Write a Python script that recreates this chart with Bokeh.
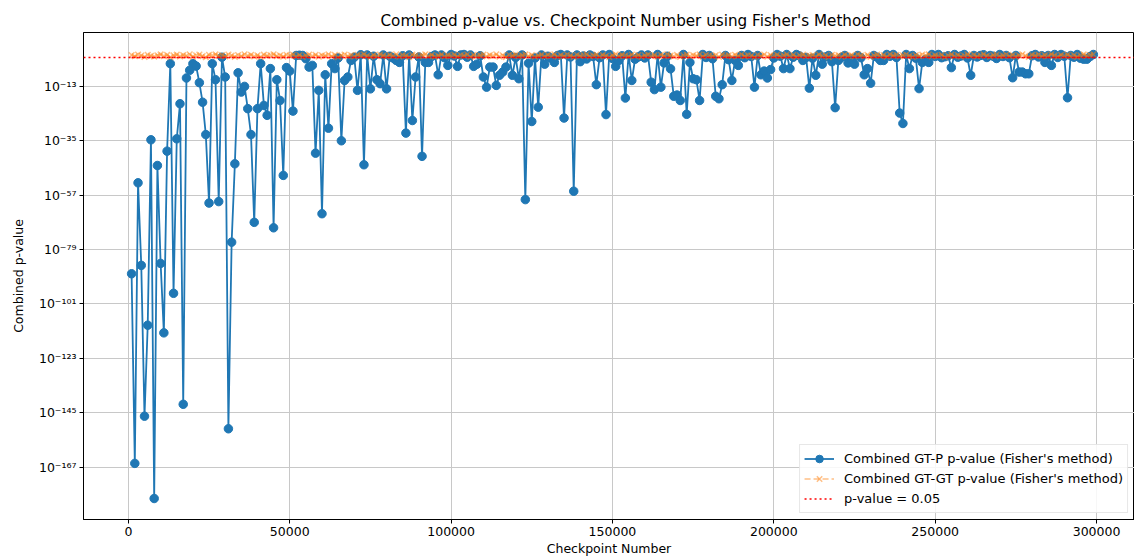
from bokeh.plotting import figure
from bokeh.models import (Range1d, FixedTicker, CustomJSTickFormatter, BasicTickFormatter,
                          Span, Legend, LegendItem, ColumnDataSource)
from bokeh.embed import file_html
from bokeh.resources import INLINE

# log10 of combined GT-P p-value, one per checkpoint (1000, 2000, ...)
gtp_log10 = [
    -88.8, -165.5, -52, -85.4, -146.4, -109.6, -34.6, -179.7, -45, -84.6,
    -112.7, -39.2, -3.8, -96.7, -34.2, -20, -141.6, -9.6, -6.5, -3.8,
    -4.8, -11.5, -19.4, -32.5, -60.2, -3.8, -10.3, -59.6, -1.2, -9.2,
    -151.5, -76, -44.3, -7.5, -15.3, -13, -22, -32.5, -68, -22,
    -3.8, -20.7, -24.7, -5.8, -70.2, -10.3, -18.7, -49, -5.4, -6.8,
    -23, -0.5, -0.4, -0.5, -1.8, -5.2, -4.5, -40, -14.6, -64.5,
    -8.3, -29.9, -3.8, -5.8, -1.5, -35, -10.6, -9.2, -2.5, -1.2,
    -14.6, -0.2, -44.7, -0.3, -14, -0.8, -10.3, -11.9, -0.3, -14,
    -0.8, -1.5, -2.5, -3.3, -0.6, -31.9, -0.3, -26.8, -9.2, -1.1,
    -41.3, -3.3, -3.3, -0.9, -0.3, -8.3, -0.3, -1.4, -4.5, -0.1,
    -0.7, -4.9, -0.3, -0.1, -1.2, -0.3, -4.9, -4, -0.6, -9.2,
    -13.3, -5.2, -5.2, -12.6, -8.5, -7.2, -5.2, -0.3, -8.5, -1.3,
    -9.9, -0.3, -58.8, -3.6, -27.2, -1.5, -21.4, -0.3, -4, -0.8,
    -1.6, -3.3, -0.5, -0.1, -25.8, -0.3, -1.1, -55.4, -0.3, -3,
    -0.7, -1.9, -0.3, -0.9, -12.3, -1.4, -0.3, -24.4, -0.1, -1.7,
    -4.9, -2.5, -0.6, -17.7, -0.1, -10.6, -2, -1.1, -0.3, -1.5,
    -0.3, -11.3, -14.3, -0.1, -13.3, -3.5, -0.8, -5.9, -17, -16.5,
    -18.7, -0.1, -24.3, -3.3, -9.9, -10.3, -18.7, -0.1, -1.3, -0.5,
    -1.8, -17, -18, -12.3, -0.5, -2.2, -10.6, -2.5, -4.5, -0.5,
    -1.4, -0.1, -0.9, -13.3, -0.5, -8.3, -6.8, -9.6, -6.2, -1.5,
    -0.1, -0.8, -5.8, -0.1, -5.8, -1.2, -0.1, -0.7, -2.5, -1.3,
    -13.7, -1.6, -8.5, -0.1, -4, -1.1, -0.5, -3, -21.6, -2.5,
    -1.2, -0.5, -3.5, -1.9, -4, -0.5, -1.4, -8.3, -5.8, -11.7,
    -0.5, -1.2, -2.5, -2.5, -0.1, -0.8, -0.1, -1.3, -23.8, -28,
    -0.1, -5.8, -0.5, -1.6, -13.9, -3.3, -2.1, -3.3, -0.1, -0.9,
    -0.1, -1.4, -1, -0.6, -5.4, -0.1, -1.2, -0.7, -0.1, -1.5,
    -8.5, -0.5, -1.1, -0.5, -0.2, -1.3, -0.5, -0.8, -1.7, -0.1,
    -0.9, -0.5, -1.4, -9.5, -0.5, -7.2, -7.2, -7.9, -7.9, -0.6,
    -0.1, -1.1, -0.6, -3.3, -0.5, -4.5, -0.1, -1.3, -0.1, -0.8,
    -17.6, -0.5, -1.2, -0.1, -1.6, -2, -2, -0.9, -0.1,
]

# log10 of combined GT-GT p-value, one per checkpoint
gtgt_log10 = [
    -0.32, -0.81, -0.12, -0.55, -1.05, -0.21, -0.64, -0.93, -0.41, -0.07, -0.72, -0.28, -1.15, -0.49, -0.18, -0.86, -0.35, -0.60, -0.03, -0.97,
    -0.44, -0.15, -0.77, -1.20, -0.26, -0.58, -0.09, -0.69, -0.38, -0.90, -0.13, -0.52, -1.02, -0.30, -0.75, -0.05, -0.62, -0.24, -0.84, -0.47,
    -1.10, -0.19, -0.66, -0.36, -0.01, -0.79, -0.42, -0.95, -0.23, -0.57, -0.11, -0.88, -0.33, -1.08, -0.50, -0.16, -0.71, -0.27, -0.99, -0.40,
    -0.63, -0.08, -0.83, -0.29, -1.18, -0.45, -0.14, -0.74, -0.37, -0.92, -0.20, -0.56, -0.02, -0.67, -1.03, -0.31, -0.78, -0.10, -0.53, -0.89,
    -0.25, -0.70, -0.04, -0.96, -0.39, -0.61, -1.12, -0.17, -0.48, -0.82, -0.34, -0.06, -0.73, -0.22, -1.00, -0.54, -0.12, -0.87, -0.43, -0.65,
    -0.19, -0.91, -0.36, -0.58, -0.03, -1.07, -0.27, -0.76, -0.46, -0.11, -0.85, -0.32, -0.68, -0.05, -0.94, -0.40, -1.14, -0.23, -0.59, -0.15,
    -0.80, -0.44, -0.09, -0.71, -0.30, -1.01, -0.52, -0.18, -0.88, -0.26, -0.62, -0.02, -0.97, -0.37, -0.74, -0.13, -0.55, -1.09, -0.21, -0.66,
    -0.35, -0.06, -0.84, -0.49, -0.16, -0.93, -0.28, -0.60, -1.16, -0.41, -0.08, -0.77, -0.24, -0.53, -0.90, -0.14, -0.69, -0.33, -1.04, -0.47,
    -0.11, -0.64, -0.38, -0.98, -0.20, -0.72, -0.04, -0.57, -0.86, -0.29, -1.11, -0.45, -0.17, -0.81, -0.36, -0.63, -0.07, -0.92, -0.25, -0.51,
    -0.75, -0.31, -1.06, -0.13, -0.58, -0.42, -0.89, -0.22, -0.67, -0.01, -0.83, -0.39, -0.54, -1.19, -0.27, -0.70, -0.10, -0.95, -0.34, -0.61,
    -0.18, -0.87, -0.48, -0.05, -0.73, -0.26, -1.02, -0.40, -0.15, -0.79, -0.56, -0.30, -0.91, -0.09, -0.65, -0.43, -1.13, -0.21, -0.60, -0.37,
    -0.94, -0.12, -0.68, -0.33, -0.84, -0.03, -0.50, -0.76, -0.24, -1.08, -0.46, -0.16, -0.71, -0.38, -0.99, -0.07, -0.59, -0.28, -0.85, -0.44,
    -0.14, -0.62, -1.05, -0.35, -0.80, -0.19, -0.55, -0.02, -0.90, -0.41, -0.66, -0.23, -1.17, -0.47, -0.11, -0.74, -0.31, -0.96, -0.52, -0.08,
    -0.70, -0.27, -0.88, -0.45, -0.04, -0.61, -1.00, -0.36, -0.17, -0.82, -0.53, -0.10, -0.77, -0.29, -0.93, -0.42, -0.06, -0.67, -1.10, -0.22,
    -0.57, -0.13, -0.86, -0.39, -0.72, -0.01, -0.49, -0.98, -0.25, -0.63, -0.15, -0.81, -0.34, -1.03, -0.44, -0.09, -0.69, -0.30, -0.05,
]

checkpoint_step = 1000
x_ticks = [0, 50000, 100000, 150000, 200000, 250000, 300000]
y_tick_exponents = [-13, -35, -57, -79, -101, -123, -145, -167]
threshold = 0.05

title_text = "Combined p-value vs. Checkpoint Number using Fisher's Method"
label_gtp = "Combined GT-P p-value (Fisher's method)"
label_gtgt = "Combined GT-GT p-value (Fisher's method)"
label_thr = "p-value = 0.05"

n = min(len(gtp_log10), len(gtgt_log10))
checkpoints = [checkpoint_step * (i + 1) for i in range(n)]
src = ColumnDataSource(dict(
    x=checkpoints,
    gtp=[10.0 ** e for e in gtp_log10[:n]],
    gtgt=[10.0 ** e for e in gtgt_log10[:n]],
))

FONT = "DejaVu Sans"
BLUE = "#1f77b4"
ORANGE = "#ff7f0e"

p = figure(width=1134, height=559, y_axis_type="log",
           x_range=Range1d(-13900, 311755),
           y_range=Range1d(10.0 ** -188.2, 10.0 ** 8.8),
           output_backend="svg", toolbar_location=None,
           min_border_left=83, min_border_right=0,
           min_border_top=32, min_border_bottom=40)

p.title.text = title_text
p.title.text_font = FONT
p.title.text_font_size = "15.2px"
p.title.text_font_style = "normal"
p.title.text_color = "#000000"
p.title.align = "left"
p.title.offset = 297
p.title.standoff = 6

p.outline_line_color = "#000000"
p.outline_line_width = 1
p.background_fill_color = "white"
p.border_fill_color = "white"

# lines and markers
l1 = p.line("x", "gtp", source=src, line_color=BLUE, line_width=1.8)
s1 = p.scatter("x", "gtp", source=src, marker="circle", size=8.5,
               fill_color=BLUE, line_color=BLUE)
l2 = p.line("x", "gtgt", source=src, line_color=ORANGE, line_width=1.6,
            line_dash="6 3", line_alpha=0.5)
s2 = p.scatter("x", "gtgt", source=src, marker="x", size=8,
               line_color=ORANGE, line_width=1.5, line_alpha=0.5)

# threshold line across the whole frame, plus a renderer for the legend
span = Span(location=threshold, dimension="width", line_color="red",
            line_width=1.6, line_dash="2 3")
p.add_layout(span)
l3 = p.line(x=[checkpoints[0], checkpoints[-1]], y=[threshold, threshold],
            line_color="red", line_width=1.6, line_dash="2 3")

# axes
xt = FixedTicker(ticks=x_ticks)
yt = FixedTicker(ticks=[10.0 ** e for e in y_tick_exponents])
p.xaxis.ticker = xt
p.yaxis.ticker = yt
p.xgrid.ticker = xt
p.ygrid.ticker = yt
p.xaxis.formatter = BasicTickFormatter(use_scientific=False)
p.yaxis.formatter = CustomJSTickFormatter(code=r"""
const sup = {"0":"\u2070","1":"\u00b9","2":"\u00b2","3":"\u00b3","4":"\u2074",
             "5":"\u2075","6":"\u2076","7":"\u2077","8":"\u2078","9":"\u2079","-":"\u207b"};
const e = Math.round(Math.log10(tick));
let s = "";
for (const c of String(e)) { s += sup[c]; }
return "10" + s;
""")

for ax in (p.xaxis, p.yaxis):
    ax.major_label_text_font = FONT
    ax.major_label_text_font_size = "12.5px"
    ax.major_label_text_color = "#000000"
    ax.axis_label_text_font = FONT
    ax.axis_label_text_font_size = "12.5px"
    ax.axis_label_text_font_style = "normal"
    ax.axis_label_text_color = "#000000"
    ax.axis_line_color = "#000000"
    ax.major_tick_line_color = "#000000"
    ax.major_tick_out = 4
    ax.major_tick_in = 0
    ax.minor_tick_line_color = None
    ax.major_label_standoff = 3
    ax.axis_label_standoff = 2

p.xaxis.axis_label = "Checkpoint Number"
p.yaxis.axis_label = "Combined p-value"
p.yaxis.axis_label_standoff = 10

for g in (p.xgrid, p.ygrid):
    g.grid_line_color = "#c8c8c8"
    g.grid_line_width = 1

legend = Legend(items=[
    LegendItem(label=label_gtp, renderers=[l1, s1]),
    LegendItem(label=label_gtgt, renderers=[l2, s2]),
    LegendItem(label=label_thr, renderers=[l3]),
], location="bottom_right")
legend.label_text_font = FONT
legend.label_text_font_size = "13px"
legend.label_text_color = "#000000"
legend.border_line_color = "#d0d0d0"
legend.border_line_width = 1
legend.background_fill_alpha = 0.85
legend.padding = 4
legend.spacing = 1
legend.label_height = 19
legend.glyph_height = 19
legend.glyph_width = 30
legend.label_standoff = 10
legend.margin = 6
p.add_layout(legend)

open("out.html", "w", encoding="utf-8").write(file_html(p, INLINE))
